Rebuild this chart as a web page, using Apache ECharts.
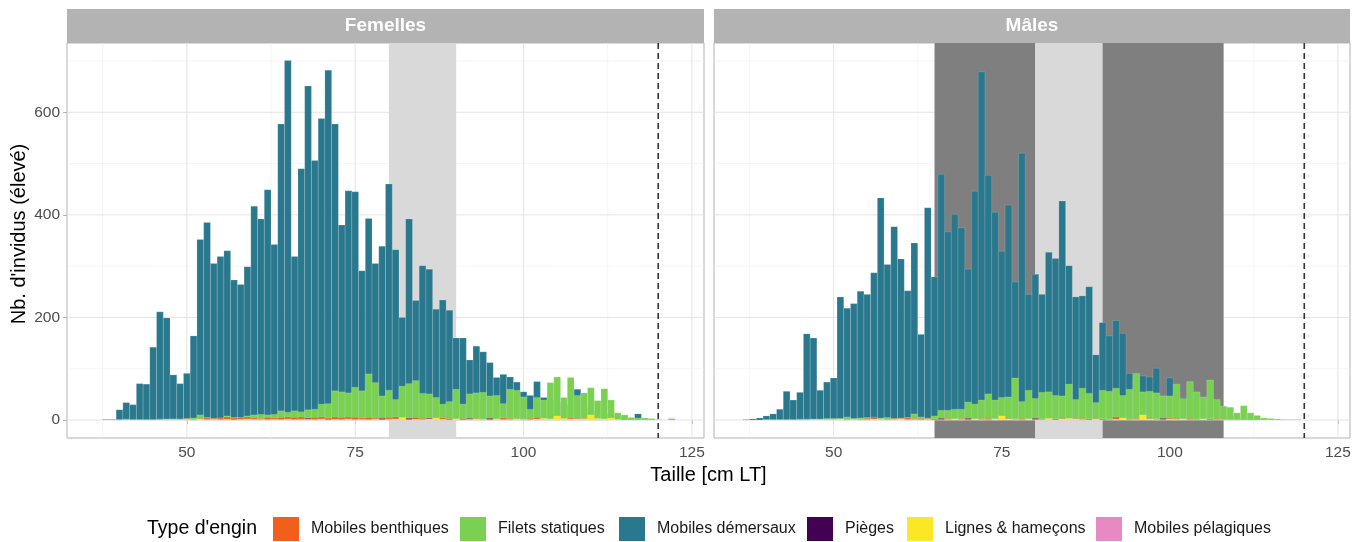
<!DOCTYPE html>
<html><head><meta charset="utf-8">
<script src="https://cdn.jsdelivr.net/npm/echarts@6/dist/echarts.min.js"></script>
<style>html,body{margin:0;padding:0;background:#fff}#c{width:1367px;height:542px}</style>
</head><body><div id="c"></div>
<script>
// ---------- DATA ----------
const panels = ['Femelles', 'Mâles'];
const gearTypes = ['Mobiles benthiques', 'Filets statiques', 'Mobiles démersaux', 'Pièges', 'Lignes & hameçons', 'Mobiles pélagiques'];
const sizeBins = [37,38,39,40,41,42,43,44,45,46,47,48,49,50,51,52,53,54,55,56,57,58,59,60,61,62,63,64,65,66,67,68,69,70,71,72,73,74,75,76,77,78,79,80,81,82,83,84,85,86,87,88,89,90,91,92,93,94,95,96,97,98,99,100,101,102,103,104,105,106,107,108,109,110,111,112,113,114,115,116,117,118,119,120,121,122];

// Femelles
const femDemersaux = [0,1,1,20,34,30,71,70,142,211,199,88,71,91,164,352,385,305,319,330,273,264,299,417,392,449,342,577,701,319,490,651,506,588,682,577,380,447,445,291,393,305,339,460,332,200,392,233,301,294,216,234,214,160,160,117,144,133,112,83,89,84,74,55,48,75,44,40,35,30,30,60,25,20,15,12,10,5,3,2,12,0,0,0,0,0];
const femFilets = [0,0,0,1,2,1,1,1,1,2,2,2,2,3,4,10,5,3,4,8,5,5,8,10,11,10,11,18,15,18,16,20,21,31,32,57,55,53,64,57,90,73,47,58,40,66,71,77,52,51,44,31,36,60,31,51,53,54,47,48,32,60,58,45,21,44,39,73,84,44,83,48,53,63,38,61,39,14,10,5,4,4,3,1,0,3];
const femBenthiques = [0,0,0,0,0,0,0,0,0,0,1,2,2,3,2,3,4,3,4,6,4,5,6,4,3,5,4,5,6,5,6,4,5,6,4,6,5,6,5,4,5,4,3,5,6,3,4,5,3,4,3,4,3,2,3,2,3,2,3,2,4,3,2,2,3,5,2,2,3,2,4,3,2,2,1,2,0,0,0,0,0,0,0,0,0,0];
const femPieges = [0,0,0,0,0,0,0,0,0,0,0,0,0,0,1,1,1,1,1,1,2,1,1,1,2,1,1,1,1,1,2,3,1,1,2,1,1,2,1,1,1,1,3,2,1,2,3,1,1,3,1,1,2,1,2,3,1,1,3,1,1,2,1,1,1,1,2,1,1,1,1,1,3,1,1,1,0,0,0,0,0,0,0,0,0,0];
const femLignes = [0,0,0,0,0,0,0,0,0,0,1,1,1,1,1,2,1,1,1,1,1,1,2,1,1,1,1,1,2,1,1,1,1,2,1,1,1,2,1,1,1,2,1,1,2,5,1,1,1,2,4,1,1,2,1,1,2,1,1,2,1,1,2,1,1,2,3,2,8,3,2,2,3,10,3,2,4,1,0,0,0,0,0,0,0,0];
const femPelagiques = [0,0,0,0,0,0,0,0,0,0,0,1,0,1,0,1,0,1,0,1,0,1,0,1,1,0,1,0,1,0,1,1,0,1,0,1,0,1,0,1,0,1,0,1,0,1,0,1,0,1,0,1,0,1,0,1,0,1,0,1,0,1,0,1,0,1,0,1,0,1,0,1,0,0,0,0,0,0,0,0,0,0,0,0,0,0];

// Mâles
const malDemersaux = [1,2,4,8,12,21,56,39,54,168,160,58,74,82,240,218,227,251,245,287,433,303,377,314,252,345,167,414,279,479,367,401,375,294,446,679,477,405,329,419,269,520,245,284,245,327,315,427,301,240,242,260,127,190,164,194,169,91,80,86,84,101,48,82,55,44,35,30,25,20,15,10,8,5,3,2,1,0,0,0,0,0,0,0,0,0];
const malFilets = [0,0,0,1,1,1,1,1,2,2,2,2,3,3,3,6,3,4,5,5,4,5,3,4,5,12,6,4,8,19,19,21,21,35,31,39,51,39,44,45,82,36,58,42,54,55,48,47,70,40,62,52,34,58,56,62,48,60,91,55,56,53,47,47,70,42,75,55,45,78,40,27,25,14,28,14,9,4,3,2,1,1,1,0,0,0];
const malBenthiques = [0,0,0,0,0,0,0,0,0,0,0,1,1,2,2,1,2,2,3,6,2,2,3,3,4,3,3,3,2,3,3,2,3,3,2,3,3,2,3,3,2,3,2,3,2,3,2,3,2,3,3,2,3,2,2,6,3,2,3,2,3,2,3,4,3,2,3,2,2,2,3,1,1,1,0,0,0,0,0,0,0,0,0,0,0,0];
const malPieges = [0,0,0,0,0,0,0,0,0,0,0,0,0,0,0,1,0,1,1,1,1,1,1,1,1,2,1,1,2,3,2,1,2,3,1,2,1,2,3,1,2,1,2,3,1,2,2,1,2,1,2,2,1,2,1,1,2,1,2,1,1,2,3,2,1,2,1,1,1,2,1,1,1,1,0,0,0,0,0,0,0,0,0,0,0,0];
const malLignes = [0,0,0,0,0,0,0,0,0,0,1,1,1,1,2,1,1,1,1,2,1,1,1,2,1,1,1,1,1,1,1,2,1,1,2,1,1,2,8,2,1,1,2,1,1,3,1,2,3,2,1,1,2,1,1,1,4,1,1,10,2,1,1,2,1,2,1,1,2,1,1,1,1,1,0,0,0,0,0,0,0,0,0,0,0,0];
const malPelagiques = [0,0,0,0,0,0,0,0,0,0,0,0,0,1,0,0,1,0,0,1,2,0,1,0,0,1,0,1,0,0,1,0,1,0,0,1,0,1,0,0,1,0,1,0,0,1,0,1,0,0,1,0,1,0,0,1,0,0,1,0,0,1,0,0,1,0,0,0,0,0,0,0,0,0,0,0,0,0,0,0,0,0,0,0,0,0];

// shaded zones (cm) and reference line
const femZones = [[80, 90, 'light']];
const malZones = [[65, 80, 'dark'], [80, 90, 'light'], [90, 108, 'dark']];
const refLength = [120];
const xMajorTicks = [50, 75, 100, 125];
const xGridLines = [37.5, 50, 62.5, 75, 87.5, 100, 112.5, 125];
const yMajorTicks = [0, 200, 400, 600];
const yGridLines = [0, 100, 200, 300, 400, 500, 600, 700];

// ---------- STYLE ----------
const gearColors = {
  'Mobiles benthiques': '#F1601A',
  'Filets statiques': '#7AD151',
  'Mobiles démersaux': '#2A788E',
  'Pièges': '#440154',
  'Lignes & hameçons': '#FDE725',
  'Mobiles pélagiques': '#E78AC3'
};
const zoneColors = { light: '#D9D9D9', dark: '#7F7F7F' };
const FONT = 'Liberation Sans, Arial, sans-serif';

const panelData = [
  { 'Mobiles démersaux': femDemersaux, 'Filets statiques': femFilets, 'Mobiles benthiques': femBenthiques, 'Pièges': femPieges, 'Lignes & hameçons': femLignes, 'Mobiles pélagiques': femPelagiques },
  { 'Mobiles démersaux': malDemersaux, 'Filets statiques': malFilets, 'Mobiles benthiques': malBenthiques, 'Pièges': malPieges, 'Lignes & hameçons': malLignes, 'Mobiles pélagiques': malPelagiques }
];
const panelZones = [femZones, malZones];
const drawOrder = ['Mobiles démersaux', 'Filets statiques', 'Mobiles benthiques', 'Pièges', 'Mobiles pélagiques', 'Lignes & hameçons'];

const grids = [
  { left: 67, top: 43, width: 637, height: 395 },
  { left: 714, top: 43, width: 636, height: 395 }
];

function barRenderer(color) {
  return function (params, api) {
    const x = api.value(0), v = api.value(1);
    if (!(v > 0)) return null;
    const a = api.coord([x - 0.5, v]);
    const b = api.coord([x + 0.5, 0]);
    return { type: 'rect', shape: { x: a[0], y: a[1], width: b[0] - a[0], height: b[1] - a[1] },
      style: { fill: color, stroke: 'rgba(255,255,255,0.3)', lineWidth: 0.5 } };
  };
}

const series = [];
for (let p = 0; p < 2; p++) {
  // grid lines
  series.push({
    type: 'custom', xAxisIndex: p, yAxisIndex: p, z: 1, silent: true, clip: true,
    data: xGridLines.map(v => [v, 0]),
    renderItem: (params, api) => {
      const v = api.value(0); const cs = params.coordSys;
      const x = api.coord([v, 0])[0];
      const major = xMajorTicks.indexOf(v) >= 0;
      return { type: 'line', shape: { x1: x, y1: cs.y, x2: x, y2: cs.y + cs.height },
        style: { stroke: major ? '#E4E4E4' : '#EFEFEF', lineWidth: major ? 1 : 0.6 } };
    }
  });
  series.push({
    type: 'custom', xAxisIndex: p, yAxisIndex: p, z: 1, silent: true, clip: true,
    data: yGridLines.map(v => [0, v]),
    renderItem: (params, api) => {
      const v = api.value(1); const cs = params.coordSys;
      const y = api.coord([50, v])[1];
      const major = yMajorTicks.indexOf(v) >= 0;
      return { type: 'line', shape: { x1: cs.x, y1: y, x2: cs.x + cs.width, y2: y },
        style: { stroke: major ? '#E4E4E4' : '#EFEFEF', lineWidth: major ? 1 : 0.6 } };
    }
  });
  // zones
  series.push({
    type: 'custom', xAxisIndex: p, yAxisIndex: p, z: 2, silent: true, clip: true,
    data: panelZones[p].map(z => [z[0], z[1], z[2]]),
    renderItem: (params, api) => {
      const cs = params.coordSys;
      const x0 = api.coord([api.value(0), 0])[0];
      const x1 = api.coord([api.value(1), 0])[0];
      const kind = panelZones[p][params.dataIndex][2];
      return { type: 'rect', shape: { x: x0, y: cs.y, width: x1 - x0, height: cs.height },
        style: { fill: zoneColors[kind] } };
    }
  });
  // bars
  drawOrder.forEach((g, k) => {
    series.push({
      name: g, type: 'custom', xAxisIndex: p, yAxisIndex: p, z: 3 + k, clip: true,
      itemStyle: { color: gearColors[g] },
      data: sizeBins.map((x, i) => [x, panelData[p][g][i]]),
      renderItem: barRenderer(gearColors[g])
    });
  });
  // reference dashed line
  series.push({
    type: 'custom', xAxisIndex: p, yAxisIndex: p, z: 20, silent: true, clip: true,
    data: refLength.map(v => [v, 0]),
    renderItem: (params, api) => {
      const cs = params.coordSys;
      const x = api.coord([api.value(0), 0])[0];
      return { type: 'line', shape: { x1: x, y1: cs.y, x2: x, y2: cs.y + cs.height },
        style: { stroke: '#333333', lineWidth: 1.6, lineDash: [6, 4] } };
    }
  });
}

const legendLefts = [273, 460, 619, 807, 907, 1096];
const legends = gearTypes.map((g, i) => ({
  data: [{ name: g, icon: 'rect' }], left: legendLefts[i], top: 517, padding: 0, orient: 'horizontal',
  itemWidth: 26, itemHeight: 24, selectedMode: false,
  textStyle: { fontFamily: FONT, fontSize: 16, color: '#1A1A1A', padding: [0, 0, 0, 7] }
}));

const option = {
  animation: false,
  backgroundColor: '#ffffff',
  grid: grids.map(g => Object.assign({ show: true, borderColor: '#B3B3B3', borderWidth: 1, backgroundColor: 'rgba(0,0,0,0)' }, g)),
  xAxis: [0, 1].map(p => ({
    type: 'value', gridIndex: p, min: 32.2, max: 126.8,
    splitLine: { show: false }, axisLine: { show: false },
    axisTick: { show: true, customValues: xMajorTicks, length: 4, lineStyle: { color: '#B3B3B3' } },
    axisLabel: { customValues: xMajorTicks, fontFamily: FONT, fontSize: 15.5, color: '#4D4D4D', margin: 7 }
  })),
  yAxis: [0, 1].map(p => ({
    type: 'value', gridIndex: p, min: -35, max: 735,
    splitLine: { show: false }, axisLine: { show: false },
    axisTick: { show: p === 0, customValues: yMajorTicks, length: 4, lineStyle: { color: '#B3B3B3' } },
    axisLabel: { show: p === 0, customValues: yMajorTicks, fontFamily: FONT, fontSize: 15.5, color: '#4D4D4D', margin: 7 }
  })),
  legend: legends,
  series: series,
  graphic: [
    { type: 'rect', left: 67, top: 9, shape: { width: 637, height: 34 }, style: { fill: '#B3B3B3' } },
    { type: 'rect', left: 714, top: 9, shape: { width: 636, height: 34 }, style: { fill: '#B3B3B3' } },
    { type: 'text', x: 67 + 637 / 2, y: 26, style: { text: panels[0], fill: '#ffffff', fontFamily: FONT, fontWeight: 'bold', fontSize: 19, align: 'center', verticalAlign: 'middle' } },
    { type: 'text', x: 714 + 636 / 2, y: 26, style: { text: panels[1], fill: '#ffffff', fontFamily: FONT, fontWeight: 'bold', fontSize: 19, align: 'center', verticalAlign: 'middle' } },
    { type: 'text', x: 708.5, y: 475, style: { text: 'Taille [cm LT]', fill: '#000000', fontFamily: FONT, fontSize: 20, align: 'center', verticalAlign: 'middle' } },
    { type: 'text', x: 19, y: 234, rotation: Math.PI / 2, style: { text: "Nb. d'invidus (élevé)", fill: '#000000', fontFamily: FONT, fontSize: 20, align: 'center', verticalAlign: 'middle' } },
    { type: 'text', x: 147, y: 529, style: { text: "Type d'engin", fill: '#000000', fontFamily: FONT, fontSize: 19.5, align: 'left', verticalAlign: 'middle' } }
  ]
};

const chart = echarts.init(document.getElementById('c'), null, { renderer: 'canvas' });
chart.setOption(option);
</script>
</body></html>
